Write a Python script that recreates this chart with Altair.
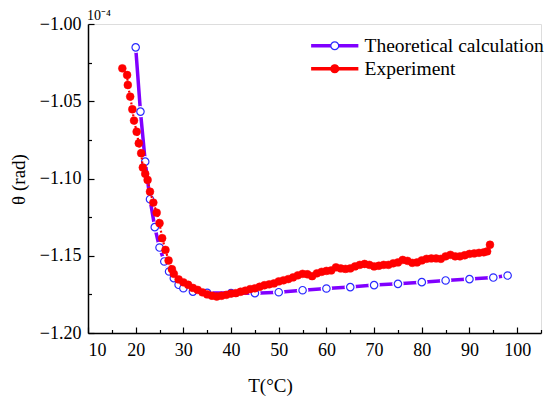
import altair as alt
import pandas as pd

# ---- data (theta in units of 1e-4 rad) ----
theo_T = [20, 21, 22, 23, 24, 25, 26, 27, 28, 29, 30, 32, 35, 40, 45, 50,
          55, 60, 65, 70, 75, 80, 85, 90, 95, 98]
theo_theta = [-1.0151, -1.0567, -1.0891, -1.1134, -1.1315, -1.1447, -1.1537,
              -1.1602, -1.1645, -1.1688, -1.1710, -1.1732, -1.1740, -1.1741,
              -1.1742, -1.1736, -1.1723, -1.1712, -1.1703, -1.1690, -1.1682,
              -1.1671, -1.1660, -1.1651, -1.1641, -1.1628]

exp_T = [17.2, 18.2, 18.35, 18.85, 19.3, 19.65, 20.2, 20.65, 21.15, 21.5,
         22.0, 22.5, 23.0, 23.7, 24.4, 25.0, 25.55, 26.25, 26.9, 27.6,
         28, 29, 30, 31, 32, 33, 34, 35, 36, 37, 38, 39, 40, 41, 42, 43, 44,
         45, 46, 47, 48, 49, 50, 51, 52, 53, 54, 55, 56, 57, 58, 59, 60, 61,
         62, 63, 64, 65, 66, 67, 68, 69, 70, 71, 72, 73, 74, 75, 76, 77, 78,
         79, 80, 81, 82, 83, 84, 85, 86, 87, 88, 89, 90, 91, 92, 93, 93.7, 94.3]
exp_theta = [-1.0287, -1.0330, -1.0395, -1.0470, -1.0552, -1.0625, -1.0697,
             -1.0772, -1.0836, -1.0929, -1.0970, -1.1009, -1.1085, -1.1156,
             -1.1221, -1.1289, -1.1386, -1.1462, -1.1531, -1.1587,
             -1.1617, -1.1653, -1.1672, -1.1688, -1.1708, -1.1721, -1.1737,
             -1.1750, -1.1759, -1.1764, -1.1759, -1.1753, -1.1745, -1.1742,
             -1.1733, -1.1726, -1.1716, -1.1711, -1.1701, -1.1691, -1.1685,
             -1.1679, -1.1666, -1.1659, -1.1651, -1.1640, -1.1627, -1.1617,
             -1.1620, -1.1632, -1.1614, -1.1604, -1.1598, -1.1595, -1.1575,
             -1.1582, -1.1585, -1.1582, -1.1569, -1.1559, -1.1553, -1.1559,
             -1.1569, -1.1565, -1.1559, -1.1559, -1.1549, -1.1543, -1.1527,
             -1.1533, -1.1546, -1.1543, -1.1530, -1.1520, -1.1517, -1.1517,
             -1.1520, -1.1504, -1.1494, -1.1504, -1.1504, -1.1497, -1.1488,
             -1.1485, -1.1481, -1.1478, -1.1472, -1.1429]

series_names = ["Theoretical calculation", "Experiment"]
marker_keys = ["theo", "exp"]
line_colors = ["#8000ff", "#ff0000"]
point_fills = ["#ffffff", "#ff0000"]
point_strokes = ["#2a2aff", "#ff0000"]

x_major = [10, 20, 30, 40, 50, 60, 70, 80, 90, 100]
x_minor = [15, 25, 35, 45, 55, 65, 75, 85, 95, 105]
y_major = [-1.20, -1.15, -1.10, -1.05, -1.00]
y_minor = [-1.175, -1.125, -1.075, -1.025]

theo_df = pd.DataFrame({"T": theo_T, "theta": theo_theta,
                        "series": series_names[0], "marker": marker_keys[0]})
exp_df = pd.DataFrame({"T": exp_T, "theta": exp_theta,
                       "series": series_names[1], "marker": marker_keys[1]})

FONT = "Liberation Serif"
W, H = 453, 309

x_scale = alt.Scale(domain=[10, 105], nice=False, zero=False)
y_scale = alt.Scale(domain=[-1.20, -1.00], nice=False, zero=False)

# main axes: domain, labels, titles (no ticks)
x_main = alt.Axis(
    orient="bottom", title="T(°C)", values=x_major, ticks=False,
    labelFont=FONT, labelFontSize=18, labelColor="black", labelPadding=8,
    titleFont=FONT, titleFontSize=19, titleFontWeight="normal", titleColor="black",
    titleX=182, titleY=52, titleBaseline="middle",
    domainColor="black", domainWidth=1.5, grid=False,
)
y_main = alt.Axis(
    orient="left", title="θ (rad)", values=y_major, format=".2f", ticks=False,
    labelFont=FONT, labelFontSize=18, labelColor="black", labelPadding=7,
    titleFont=FONT, titleFontSize=19, titleFontWeight="normal", titleColor="black",
    titleX=-70, titleY=155, titleAngle=-90, titleBaseline="middle",
    domainColor="black", domainWidth=1.5, grid=False,
)


def tick_axis_x(vals, size):
    # top-oriented axis moved down onto the bottom edge -> ticks point inward
    return alt.Axis(orient="top", offset=-H, values=vals, labels=False, domain=False,
                    title=None, grid=False, tickSize=size, tickColor="black", tickWidth=1.2)


def tick_axis_y(vals, size):
    # right-oriented axis moved onto the left edge -> ticks point inward
    return alt.Axis(orient="right", offset=-W, values=vals, labels=False, domain=False,
                    title=None, grid=False, tickSize=size, tickColor="black", tickWidth=1.2)


def XE(axis):
    return alt.X("T:Q", scale=x_scale, axis=axis)


def YE(axis):
    return alt.Y("theta:Q", scale=y_scale, axis=axis)


LEG_X, LEG_Y, SYM = 237, 12, 62
legend_lines = alt.Legend(
    title=None, orient="none", legendX=LEG_X, legendY=LEG_Y, direction="vertical",
    symbolType="M-6,0L6,0", symbolSize=SYM, symbolStrokeWidth=3.5, symbolDash=[1, 0],
    symbolOpacity=1, symbolFillColor="transparent",
    labelFont=FONT, labelFontSize=19.5, labelColor="black", labelOffset=20,
    labelLimit=400, rowPadding=2, padding=0, zindex=1,
)
legend_points = alt.Legend(
    title=None, orient="none", legendX=LEG_X, legendY=LEG_Y, direction="vertical",
    symbolType="circle", symbolSize=SYM, symbolStrokeWidth=1.2, symbolOpacity=1,
    labelFont=FONT, labelFontSize=19.5, labelColor="black", labelExpr="''",
    labelOffset=20, labelLimit=400, rowPadding=2, padding=0, zindex=2,
)

color_enc = alt.Color("series:N", scale=alt.Scale(domain=series_names, range=line_colors),
                      legend=legend_lines)
fill_enc = alt.Fill("marker:N", scale=alt.Scale(domain=marker_keys, range=point_fills),
                    legend=legend_points)
stroke_enc = alt.Stroke("marker:N", scale=alt.Scale(domain=marker_keys, range=point_strokes),
                        legend=legend_points)

theo_line = alt.Chart(theo_df).mark_line(strokeWidth=3.5).encode(
    x=XE(x_main), y=YE(y_main), color=color_enc)
theo_halo = alt.Chart(theo_df).mark_point(filled=True, size=130, fill="white",
                                          strokeWidth=0, opacity=1).encode(
    x=XE(None), y=YE(None))
theo_pts = alt.Chart(theo_df).mark_point(filled=True, size=55, strokeWidth=1.2, opacity=1).encode(
    x=XE(None), y=YE(None), fill=fill_enc, stroke=stroke_enc)
exp_line = alt.Chart(exp_df).mark_line(strokeWidth=2.2, strokeDash=[2, 2]).encode(
    x=XE(None), y=YE(None), color=color_enc)
exp_pts = alt.Chart(exp_df).mark_point(filled=True, size=62, strokeWidth=0.5, opacity=1).encode(
    x=XE(None), y=YE(None), fill=fill_enc, stroke=stroke_enc)

ticks_major = alt.Chart(theo_df).mark_point(opacity=0).encode(
    x=XE(tick_axis_x(x_major, 6)), y=YE(tick_axis_y(y_major, 6)))
ticks_minor = alt.Chart(theo_df).mark_point(opacity=0).encode(
    x=XE(tick_axis_x(x_minor, 3.5)), y=YE(tick_axis_y(y_minor, 3.5)))

chart = alt.layer(theo_line, theo_halo, theo_pts, exp_line, exp_pts,
                  ticks_major, ticks_minor).resolve_axis(
    x="independent", y="independent"
).properties(
    width=W, height=H,
    autosize=alt.AutoSizeParams(type="none"),
    padding={"left": 88, "top": 24, "right": 10, "bottom": 66},
    title=alt.TitleParams(text="10⁻⁴", anchor="start", frame="group", font=FONT,
                          fontSize=14, fontWeight="normal", color="black",
                          offset=3, dx=-1, dy=11),
).configure_view(stroke=None).configure(background="white")

chart.save("out.html", embed_options={"renderer": "svg", "actions": False})
